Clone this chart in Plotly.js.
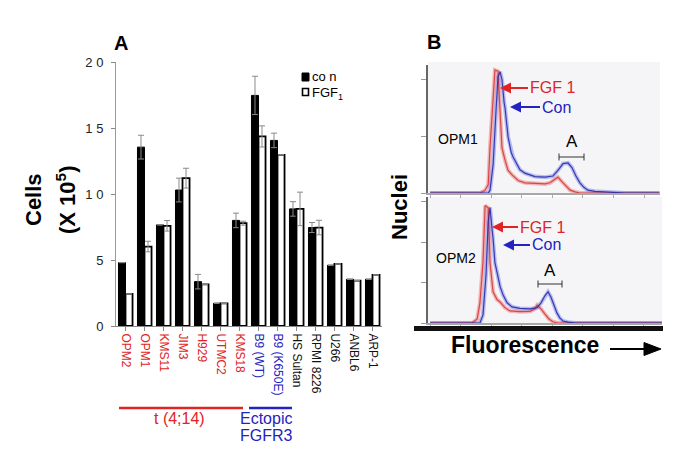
<!DOCTYPE html>
<html><head><meta charset="utf-8">
<script src="https://cdn.plot.ly/plotly-3.0.1.min.js"></script>
<style>html,body{margin:0;padding:0;background:#fff}#chart{width:685px;height:449px}</style>
</head><body><div id="chart"></div>
<script>
// ---------- Panel A data ----------
const cellLines = ["OPM2","OPM1","KMS11","JIM3","H929","UTMC2","KMS18","B9 (WT)","B9 (K650E)","HS Sultan","RPMI 8226","U266","ANBL6","ARP-1"];
const labelColors = ["#e02424","#e02424","#e02424","#e02424","#e02424","#e02424","#e02424","#2323c0","#2323c0","#111","#111","#111","#111","#111"];
const conValues = [4.8,13.55,7.66,10.3,3.36,1.72,8.0,17.47,14.06,8.87,7.46,4.6,3.54,3.54];
const conErrors = [0,0.9,0,0.9,0.55,0,0.55,1.45,0.55,0.55,0.38,0,0,0];
const fgfValues = [2.43,6.02,7.59,11.2,3.16,1.72,7.79,14.36,12.97,8.87,7.46,4.7,3.44,3.87];
const fgfErrors = [0,0.4,0.4,0.75,0,0,0.15,0.8,0,1.27,0.55,0,0,0];
const yTickVals = [0,5,10,15,20];
const yTickText = ["0","5","1 0","1 5","2 0"];

// ---------- Panel B data (fluorescence channel vs nuclei count) ----------
const opm1FgfCh    = [0,163,180,190,196,206,212,222,229,235,245,255,268,288,310,343,376,392,408,418,431,444,458,474,490,750];
const opm1FgfCount = [0,0,5,15,81,180,217,215,134,80,58,40,32,22,18,17,16,18,24,28,20,12,5,2,0,0];
const opm1ConCh    = [0,190,196,206,216,222,229,235,242,245,255,265,271,284,294,310,343,376,402,418,435,451,464,477,490,503,516,539,572,605,637,750];
const opm1ConCount = [0,0,5,50,150,205,214,200,160,150,99,72,64,50,41,35,29,28,30,40,52,53,45,30,18,10,5,3,2,1,0,0];
const opm2FgfCh    = [0,137,154,163,173,180,190,196,206,219,229,245,261,294,327,343,350,363,376,389,402,418,759];
const opm2FgfCount = [0,0,10,50,150,291,285,150,77,58,52,38,30,28,29,35,44,35,22,10,3,0,0];
const opm2ConCh    = [0,163,173,183,190,196,203,206,212,219,229,239,252,268,294,327,350,363,376,386,395,405,415,425,435,451,474,759];
const opm2ConCount = [0,0,20,120,250,286,230,210,150,126,90,69,50,40,36,35,38,50,68,77,65,45,25,12,5,2,0,0];

const W = 685, H = 449;
const px = x => x / W;
const py = y => 1 - y / H;
const FONT = "Liberation Sans, Arial, Helvetica, sans-serif";
const RED = "#e02424", BLUE = "#2323c0";

const traces = [
  {type:"bar", name:"co n", x:cellLines, y:conValues, xaxis:"x", yaxis:"y",
   marker:{color:"#000", line:{color:"#000", width:1}},
   error_y:{type:"data", array:conErrors, visible:true, color:"#8a8a8a", thickness:1, width:3},
   showlegend:false, hoverinfo:"x+y"},
  {type:"bar", name:"FGF1", x:cellLines, y:fgfValues, xaxis:"x", yaxis:"y",
   marker:{color:"#fff", line:{color:"#000", width:1.8}},
   error_y:{type:"data", array:fgfErrors, visible:true, color:"#8a8a8a", thickness:1, width:3},
   showlegend:false, hoverinfo:"x+y"}
];

function hist(ch, cnt, ax, ay, color, width) {
  return {type:"scatter", mode:"lines", x:ch, y:cnt, xaxis:ax, yaxis:ay,
          line:{color:color, width:width, shape:"linear"}, showlegend:false, hoverinfo:"skip"};
}
traces.push(hist(opm1FgfCh, opm1FgfCount, "x2","y2","rgba(236,120,120,0.5)",4));
traces.push(hist(opm1ConCh, opm1ConCount, "x2","y2","rgba(120,130,232,0.5)",4));
traces.push(hist(opm1FgfCh, opm1FgfCount, "x2","y2","rgba(205,35,35,0.75)",1.2));
traces.push(hist(opm1ConCh, opm1ConCount, "x2","y2","rgba(35,35,165,0.85)",1.2));
traces.push(hist(opm2FgfCh, opm2FgfCount, "x3","y3","rgba(236,120,120,0.5)",4));
traces.push(hist(opm2ConCh, opm2ConCount, "x3","y3","rgba(120,130,232,0.5)",4));
traces.push(hist(opm2FgfCh, opm2FgfCount, "x3","y3","rgba(205,35,35,0.75)",1.2));
traces.push(hist(opm2ConCh, opm2ConCount, "x3","y3","rgba(35,35,165,0.85)",1.2));

const tickText = cellLines.map((c,i)=>`<span style="color:${labelColors[i]}">${c}</span>`);

function txt(x, y, text, size, color, opts) {
  return Object.assign({xref:"paper", yref:"paper", x:px(x), y:py(y), text:text, showarrow:false,
    xanchor:"center", yanchor:"middle", font:{family:FONT, size:size, color:color||"#000"}}, opts||{});
}
function arrowNote(tipX, tipY, dx, text, color) {
  return {xref:"paper", yref:"paper", x:px(tipX), y:py(tipY), ax:dx, ay:0, text:text,
    showarrow:true, arrowhead:2, arrowsize:1.1, arrowwidth:2, arrowcolor:color, standoff:0,
    font:{family:FONT, size:16, color:color}};
}

const annotations = [
  txt(121, 43, "<b>A</b>", 20),
  txt(434, 42, "<b>B</b>", 20),
  txt(33, 200, "<b>Cells</b>", 22, "#000", {textangle:-90}),
  txt(66, 200, "<b>(X 10<sup>5</sup>)</b>", 22, "#000", {textangle:-90}),
  txt(310, 76.5, "co n", 13, "#000", {xanchor:"left"}),
  txt(310, 93, "FGF<sub>1</sub>", 13, "#000", {xanchor:"left"}),
  txt(179, 418, "t (4;14)", 16, RED),
  txt(266, 418, "Ectopic", 16, BLUE),
  txt(266, 435, "FGFR3", 16, BLUE),
  txt(399, 207, "<b>Nuclei</b>", 22, "#000", {textangle:-90}),
  txt(525, 345, "<b>Fluorescence</b>", 23),
  txt(458, 139, "OPM1", 14),
  txt(456, 258, "OPM2", 14),
  txt(572, 141, "A", 17),
  txt(550, 270, "A", 17),
  arrowNote(500, 88, 52, "FGF 1", RED),
  arrowNote(510, 107, 46, "Con", BLUE),
  arrowNote(492, 227, 50, "FGF 1", RED),
  arrowNote(503, 245, 43, "Con", BLUE)
];

function pline(x0,y0,x1,y1,color,w){return {type:"line", xref:"paper", yref:"paper", x0:px(x0), y0:py(y0), x1:px(x1), y1:py(y1), line:{color:color, width:w}};}
const shapes = [
  {type:"rect", xref:"paper", yref:"paper", x0:px(428), x1:px(660), y0:py(193), y1:py(62), fillcolor:"#f5f5f7", line:{width:0}, layer:"below"},
  {type:"rect", xref:"paper", yref:"paper", x0:px(428), x1:px(662), y0:py(323), y1:py(197), fillcolor:"#f5f5f7", line:{width:0}, layer:"below"},
  {type:"rect", xref:"paper", yref:"paper", x0:px(414), x1:px(663), y0:py(331), y1:py(326), fillcolor:"#111", line:{width:0}},
  {type:"rect", xref:"paper", yref:"paper", x0:px(302), x1:px(309), y0:py(81), y1:py(73), fillcolor:"#000", line:{color:"#000", width:1}},
  {type:"rect", xref:"paper", yref:"paper", x0:px(302.5), x1:px(308.5), y0:py(95.5), y1:py(88.5), fillcolor:"#fff", line:{color:"#000", width:1.6}},
  pline(119,408,243,408,RED,2.5),
  pline(249,408,292,408,BLUE,2.5),
  pline(559,157,584,157,"#333",1), pline(559,153.5,559,160.5,"#333",1), pline(584,153.5,584,160.5,"#333",1),
  pline(538,284,562,284,"#333",1), pline(538,280.5,538,287.5,"#333",1), pline(562,280.5,562,287.5,"#333",1),
  pline(610,349,646,349,"#000",2),
  {type:"path", xref:"paper", yref:"paper",
   path:`M ${px(661)} ${py(349)} L ${px(644)} ${py(342.5)} L ${px(644)} ${py(355.5)} Z`,
   fillcolor:"#000", line:{color:"#000", width:1}}
];

const bAxisX = {showline:true, linecolor:"#a8a8a8", linewidth:1.5, ticks:"outside", ticklen:3, tickcolor:"#aaa",
  dtick:100, tick0:0, showticklabels:false, showgrid:false, zeroline:false, fixedrange:true};
const bAxisY = {showline:true, linecolor:"#666", linewidth:2.5, ticks:"outside", ticklen:5, tickcolor:"#999",
  dtick:100, tick0:0, showticklabels:false, showgrid:false, zeroline:false, fixedrange:true};

const layout = {
  width:W, height:H, margin:{l:0,r:0,t:0,b:0},
  paper_bgcolor:"#fff", plot_bgcolor:"rgba(0,0,0,0)",
  font:{family:FONT, color:"#000"},
  barmode:"group", bargap:0.26, bargroupgap:0,
  showlegend:false,
  xaxis:{domain:[px(116), px(382)], type:"category", range:[-0.5,13.5],
    tickmode:"array", tickvals:cellLines, ticktext:tickText, tickangle:90,
    tickfont:{family:FONT, size:12}, ticks:"outside", ticklen:4, tickcolor:"#888",
    showline:true, linecolor:"#888", linewidth:1, showgrid:false, zeroline:false, fixedrange:true},
  yaxis:{domain:[py(326), py(62)], range:[0,20], tickmode:"array", tickvals:yTickVals, ticktext:yTickText,
    tickfont:{family:FONT, size:13, color:"#222"}, ticks:"outside", ticklen:4, tickcolor:"#888",
    ticklabelstandoff:5, showline:true, linecolor:"#999", linewidth:1, showgrid:false, zeroline:false, fixedrange:true},
  xaxis2:Object.assign({}, bAxisX, {domain:[px(428), px(660)], range:[-7,752], anchor:"y2"}),
  yaxis2:Object.assign({}, bAxisY, {domain:[py(193), py(65)], range:[0,226], anchor:"x2"}),
  xaxis3:Object.assign({}, bAxisX, {domain:[px(428), px(662)], range:[-7,759], anchor:"y3"}),
  yaxis3:Object.assign({}, bAxisY, {domain:[py(323), py(197)], range:[0,312], anchor:"x3"}),
  annotations:annotations, shapes:shapes
};
Plotly.newPlot("chart", traces, layout, {displayModeBar:false, staticPlot:true});
</script></body></html>
